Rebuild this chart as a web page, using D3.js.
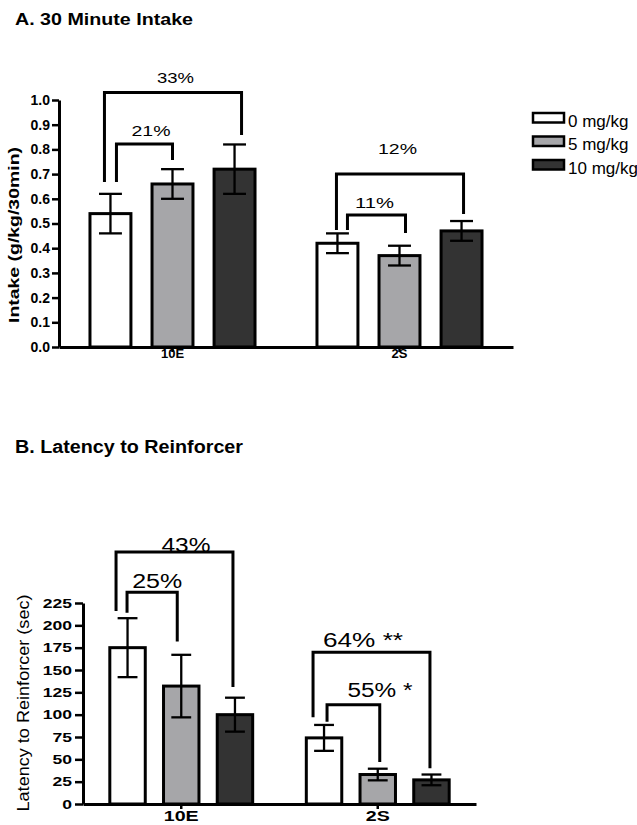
<!DOCTYPE html>
<html>
<head>
<meta charset="utf-8">
<script src="https://cdn.jsdelivr.net/npm/d3@7"></script>
<style>
	body { margin: 0; background: #fff; }
	text { font-family: "Liberation Sans", Arial, Helvetica, sans-serif; fill: #000; }
</style>
</head>
<body>
<div id="chart"></div>
<script>
"use strict";

/* values (means +/- sem) */
var groups = ["10E", "2S"];
var doses = ["0 mg/kg", "5 mg/kg", "10 mg/kg"];
var doseColors = ["#ffffff", "#a6a6a9", "#333333"];

// A. 30 minute intake, g/kg/30min
var intake10E = [0.54, 0.66, 0.72];
var intake2S = [0.42, 0.37, 0.47];
var intakeErr10E = [0.08, 0.06, 0.10];
var intakeErr2S = [0.04, 0.04, 0.04];
var intakeTicks = [0, 0.1, 0.2, 0.3, 0.4, 0.5, 0.6, 0.7, 0.8, 0.9, 1.0];

// B. latency to reinforcer, sec
var latency10E = [175, 132, 100];
var latency2S = [74, 33, 27];
var latencyErr10E = [33, 35, 19];
var latencyErr2S = [14.5, 6.5, 6];
var latencyTicks = [0, 25, 50, 75, 100, 125, 150, 175, 200, 225];

// comparison brackets (heights in data units)
var intakeBrackets = [
	{ group: "10E", from: 0, to: 2, label: "33%", top: 1.03, leftEnd: 0.668, rightEnd: 0.858 },
	{ group: "10E", from: 0, to: 1, label: "21%", top: 0.822, leftEnd: 0.668, rightEnd: 0.757 },
	{ group: "2S", from: 0, to: 2, label: "12%", top: 0.70, leftEnd: 0.474, rightEnd: 0.538 },
	{ group: "2S", from: 0, to: 1, label: "11%", top: 0.534, leftEnd: 0.474, rightEnd: 0.462 }
];
var latencyBrackets = [
	{ group: "10E", from: 0, to: 2, label: "43%", top: 282, leftEnd: 216, rightEnd: 131 },
	{ group: "10E", from: 0, to: 1, label: "25%", top: 237, leftEnd: 214, rightEnd: 182 },
	{ group: "2S", from: 0, to: 2, label: "64% **", top: 170, leftEnd: 97, rightEnd: 40 },
	{ group: "2S", from: 0, to: 1, label: "55% *", top: 111, leftEnd: 92, rightEnd: 47 }
];

// where the bracket legs / labels sit relative to the bars (px), kept apart from the data
var intakeBracketLayout = [
	{ ldx: -6, rdx: 7, tdx: 2.5, tdy: -10, tw: 37 },
	{ ldx: 6, rdx: 0, tdx: 6.5, tdy: -8, tw: 39 },
	{ ldx: -1, rdx: 2, tdx: -2.5, tdy: -20, tw: 39 },
	{ ldx: 10, rdx: 6, tdx: -2, tdy: -7, tw: 39 }
];
var latencyBracketLayout = [
	{ ldx: -11.5, rdx: -2, tdx: 11.5, tdy: 0, tw: 49 },
	{ ldx: -0.5, rdx: -4, tdx: 5, tdy: -4, tw: 50 },
	{ ldx: -11, rdx: -1.5, tdx: -8.5, tdy: -5, tw: 80 },
	{ ldx: 3, rdx: 2, tdx: 26.5, tdy: -8, tw: 65 }
];

var W = 637, H = 825;

var svg = d3.select("#chart")
	.append("svg")
	.attr("width", W)
	.attr("height", H)
	.style("display", "block");

// the scanned figure has text stretched a bit, so fit some labels to a width
function fitWidth(sel, w) {
	sel.attr("textLength", w).attr("lengthAdjust", "spacingAndGlyphs");
}
function stretch(sel, k) {
	if (k === 1) return;
	sel.each(function () {
		var w = this.getComputedTextLength();
		d3.select(this).attr("textLength", w * k).attr("lengthAdjust", "spacingAndGlyphs");
	});
}

var drawPanel = function (p) {
	var g = svg.append("g");

	var x = d3.scaleBand().domain(groups).range([p.x0, p.x1]);
	var bw = x.bandwidth();
	var xi = d3.scaleBand().domain(d3.range(doses.length))
		.range([0.09 * bw, 0.91 * bw])
		.paddingInner(0.34)
		.paddingOuter(0.17);
	var y = d3.scaleLinear().domain([0, p.max]).range([p.yBottom, p.yTop]);

	var cx = function (grp, i) { return x(grp) + xi(i) + xi.bandwidth() / 2; };

	var rows = [];
	groups.forEach(function (grp) {
		p.means[grp].forEach(function (v, i) {
			rows.push({ group: grp, i: i, v: v, e: p.errs[grp][i] });
		});
	});

	// bars
	g.selectAll("rect.bar")
		.data(rows)
		.enter().append("rect")
		.attr("class", "bar")
		.attr("x", function (d) { return x(d.group) + xi(d.i); })
		.attr("width", xi.bandwidth())
		.attr("y", function (d) { return y(d.v); })
		.attr("height", function (d) { return y(0) - y(d.v); })
		.style("fill", function (d) { return doseColors[d.i]; })
		.style("stroke", "#000")
		.style("stroke-width", 3);

	// error bars
	var cap = xi.bandwidth() * 0.56;
	var err = g.selectAll("g.err")
		.data(rows)
		.enter().append("g")
		.attr("class", "err")
		.style("stroke", "#000")
		.style("stroke-width", 2.3);
	err.append("line")
		.attr("x1", function (d) { return cx(d.group, d.i); })
		.attr("x2", function (d) { return cx(d.group, d.i); })
		.attr("y1", function (d) { return y(d.v - d.e); })
		.attr("y2", function (d) { return y(d.v + d.e); });
	[-1, 1].forEach(function (s) {
		err.append("line")
			.attr("x1", function (d) { return cx(d.group, d.i) - cap / 2; })
			.attr("x2", function (d) { return cx(d.group, d.i) + cap / 2; })
			.attr("y1", function (d) { return y(d.v + s * d.e); })
			.attr("y2", function (d) { return y(d.v + s * d.e); });
	});

	// axes
	var yAxis = g.append("g")
		.attr("transform", "translate(" + p.x0 + ",0)")
		.call(d3.axisLeft(y)
			.tickValues(p.ticks)
			.tickFormat(d3.format(p.fmt))
			.tickSize(p.yTickSize)
			.tickSizeOuter(0)
			.tickPadding(p.yTickPad));
	yAxis.select(".domain").style("stroke-width", 3);
	yAxis.selectAll(".tick line").style("stroke-width", 2.5);
	yAxis.selectAll(".tick text")
		.attr("font-family", null)
		.style("font-size", p.yTickFont + "px")
		.style("font-weight", "bold")
		.call(stretch, p.yTickStretch);

	var xAxis = g.append("g")
		.attr("transform", "translate(0," + p.yBottom + ")")
		.call(d3.axisBottom(x)
			.tickSize(5)
			.tickSizeOuter(0)
			.tickPadding(p.xTickPad));
	xAxis.select(".domain").style("stroke-width", 3);
	xAxis.selectAll(".tick line").style("stroke-width", 2.5);
	xAxis.selectAll(".tick text")
		.attr("font-family", null)
		.style("font-size", p.xTickFont + "px")
		.style("font-weight", "bold")
		.call(stretch, p.xTickStretch);

	// brackets + percent labels
	p.brackets.forEach(function (b, k) {
		var lay = p.layout[k];
		var lx = cx(b.group, b.from) + lay.ldx,
			rx = cx(b.group, b.to) + lay.rdx;
		g.append("path")
			.attr("d", "M" + lx + "," + y(b.leftEnd) + "V" + y(b.top) + "H" + rx + "V" + y(b.rightEnd))
			.style("fill", "none")
			.style("stroke", "#000")
			.style("stroke-width", 3);
		g.append("text")
			.attr("x", (lx + rx) / 2 + lay.tdx)
			.attr("y", y(b.top) + lay.tdy)
			.attr("text-anchor", "middle")
			.style("font-size", p.pctFont + "px")
			.text(b.label)
			.call(fitWidth, lay.tw);
	});

	// title + y label
	g.append("text")
		.attr("x", 15)
		.attr("y", p.titleY)
		.style("font-size", p.titleFont + "px")
		.style("font-weight", "bold")
		.text(p.title)
		.call(fitWidth, p.titleW);

	g.append("text")
		.attr("transform", "translate(" + p.yLabelX + "," + p.yLabelMid + ") rotate(-90)")
		.attr("text-anchor", "middle")
		.style("font-size", p.yLabelFont + "px")
		.style("font-weight", p.yLabelWeight)
		.text(p.yLabel)
		.call(fitWidth, p.yLabelW);

	return g;
};

drawPanel({
	title: "A. 30 Minute Intake", titleY: 25, titleFont: 17, titleW: 178,
	yLabel: "Intake (g/kg/30min)", yLabelX: 19, yLabelMid: 235, yLabelFont: 14, yLabelWeight: "bold", yLabelW: 176,
	x0: 59, x1: 513, yBottom: 347, yTop: 100, max: 1,
	ticks: intakeTicks, fmt: ".1f",
	yTickSize: 7, yTickPad: 2, yTickFont: 14, yTickStretch: 1,
	xTickPad: -3, xTickFont: 13, xTickStretch: 1,
	means: { "10E": intake10E, "2S": intake2S },
	errs: { "10E": intakeErr10E, "2S": intakeErr2S },
	brackets: intakeBrackets, layout: intakeBracketLayout, pctFont: 14.5
});

drawPanel({
	title: "B. Latency to Reinforcer", titleY: 453, titleFont: 18, titleW: 228,
	yLabel: "Latency to Reinforcer (sec)", yLabelX: 29, yLabelMid: 703, yLabelFont: 17, yLabelWeight: "normal", yLabelW: 217,
	x0: 83, x1: 476, yBottom: 804, yTop: 603, max: 225,
	ticks: latencyTicks, fmt: "d",
	yTickSize: 8, yTickPad: 3, yTickFont: 13.5, yTickStretch: 1.3,
	xTickPad: 2, xTickFont: 14, xTickStretch: 1.4,
	means: { "10E": latency10E, "2S": latency2S },
	errs: { "10E": latencyErr10E, "2S": latencyErr2S },
	brackets: latencyBrackets, layout: latencyBracketLayout, pctFont: 19.5
});

// legend (only on panel A)
var legend = svg.append("g")
	.attr("transform", "translate(533,113)");
var item = legend.selectAll("g")
	.data(doses)
	.enter().append("g")
	.attr("transform", function (d, i) { return "translate(0," + i * 23.5 + ")"; });
item.append("rect")
	.attr("width", 31)
	.attr("height", 9.5)
	.style("fill", function (d, i) { return doseColors[i]; })
	.style("stroke", "#000")
	.style("stroke-width", 2.5);
item.append("text")
	.attr("x", 35)
	.attr("y", 13.5)
	.style("font-size", "17px")
	.text(function (d) { return d; });
</script>
</body>
</html>
